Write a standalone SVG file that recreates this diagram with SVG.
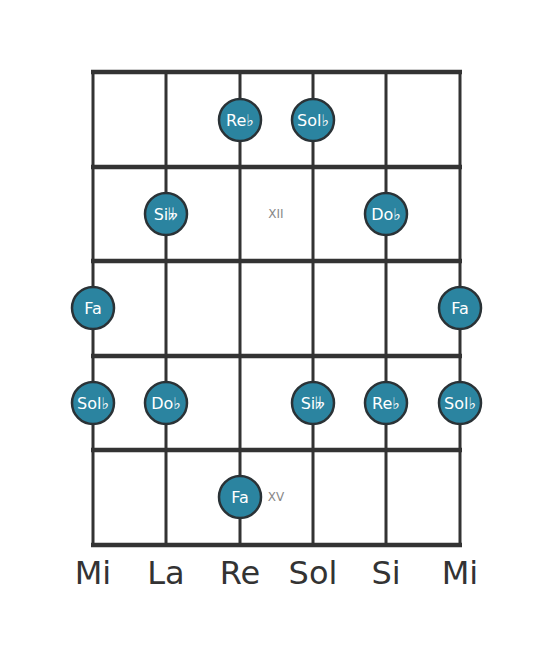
<svg xmlns="http://www.w3.org/2000/svg" width="553" height="656" viewBox="0 0 553 656">
<style>
.str{stroke:#333;stroke-width:3;}
.fret{stroke:#333;stroke-width:4.5;}
.dot circle{fill:#2b84a0;stroke:#2a3236;stroke-width:2.5;}
.dot text{fill:#fff;font-family:"DejaVu Sans",sans-serif;font-size:16px;text-anchor:middle;dominant-baseline:central;}
.pos{fill:#888;font-family:"DejaVu Sans",sans-serif;font-size:12px;text-anchor:middle;dominant-baseline:central;}
.name{fill:#333;font-family:"DejaVu Sans",sans-serif;font-size:32px;text-anchor:middle;}
</style>
<rect width="553" height="656" fill="#fff"/>
<g id="connectors">
<line class="str" x1="93" y1="72" x2="93" y2="545"/>
<line class="str" x1="166" y1="72" x2="166" y2="545"/>
<line class="str" x1="240" y1="72" x2="240" y2="545"/>
<line class="str" x1="313" y1="72" x2="313" y2="545"/>
<line class="str" x1="386" y1="72" x2="386" y2="545"/>
<line class="str" x1="460" y1="72" x2="460" y2="545"/>
<line class="fret" x1="91" y1="72" x2="462" y2="72"/>
<line class="fret" x1="91" y1="167" x2="462" y2="167"/>
<line class="fret" x1="91" y1="261" x2="462" y2="261"/>
<line class="fret" x1="91" y1="356" x2="462" y2="356"/>
<line class="fret" x1="91" y1="450" x2="462" y2="450"/>
<line class="fret" x1="91" y1="545" x2="462" y2="545"/>
</g>
<text class="pos" x="276" y="214">XII</text>
<text class="pos" x="276" y="497">XV</text>
<g id="n1" class="dot"><circle cx="240" cy="120" r="21"/><text x="240" y="120">Re♭</text></g>
<g id="n2" class="dot"><circle cx="313" cy="120" r="21"/><text x="313" y="120">Sol♭</text></g>
<g id="n3" class="dot"><circle cx="166" cy="214" r="21"/><text x="166" y="214">Si𝄫</text></g>
<g id="n4" class="dot"><circle cx="386" cy="214" r="21"/><text x="386" y="214">Do♭</text></g>
<g id="n5" class="dot"><circle cx="93" cy="308" r="21"/><text x="93" y="308">Fa</text></g>
<g id="n6" class="dot"><circle cx="460" cy="308" r="21"/><text x="460" y="308">Fa</text></g>
<g id="n7" class="dot"><circle cx="93" cy="403" r="21"/><text x="93" y="403">Sol♭</text></g>
<g id="n8" class="dot"><circle cx="166" cy="403" r="21"/><text x="166" y="403">Do♭</text></g>
<g id="n9" class="dot"><circle cx="313" cy="403" r="21"/><text x="313" y="403">Si𝄫</text></g>
<g id="n10" class="dot"><circle cx="386" cy="403" r="21"/><text x="386" y="403">Re♭</text></g>
<g id="n11" class="dot"><circle cx="460" cy="403" r="21"/><text x="460" y="403">Sol♭</text></g>
<g id="n12" class="dot"><circle cx="240" cy="497" r="21"/><text x="240" y="497">Fa</text></g>
<g id="labels">
<text class="name" x="93" y="584">Mi</text>
<text class="name" x="166" y="584">La</text>
<text class="name" x="240" y="584">Re</text>
<text class="name" x="313" y="584">Sol</text>
<text class="name" x="386" y="584">Si</text>
<text class="name" x="460" y="584">Mi</text>
</g>
</svg>
